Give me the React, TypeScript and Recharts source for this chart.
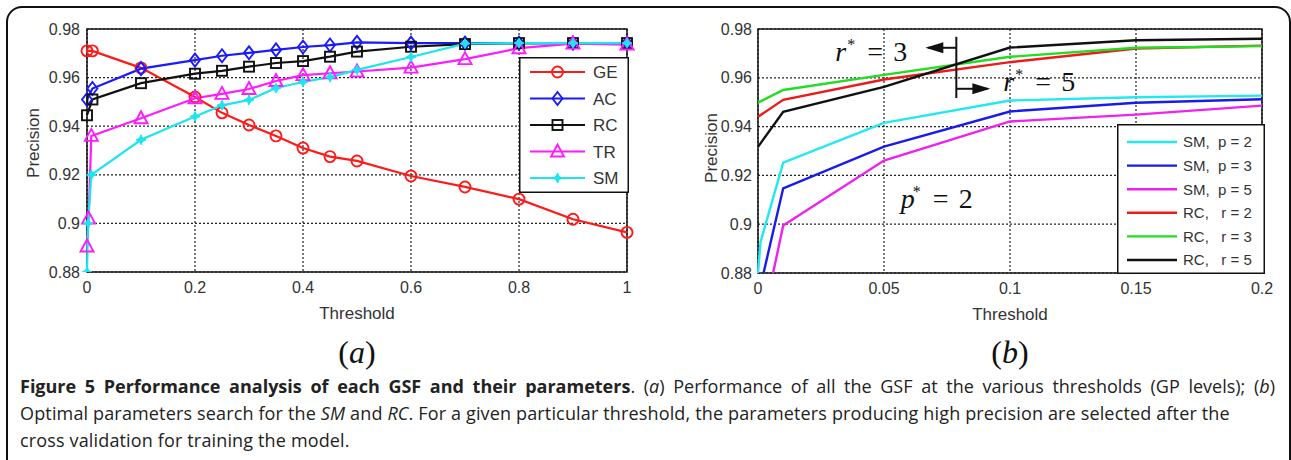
import React from "react";
import {
  LineChart, Line, XAxis, YAxis, CartesianGrid, ReferenceArea,
  ReferenceLine, ReferenceDot, Legend,
} from "recharts";

// ---------- panel (a): precision of each GSF against the threshold ----------
const thresholdTicksA = [0, 0.2, 0.4, 0.6, 0.8, 1];
const precisionTicks = [0.88, 0.9, 0.92, 0.94, 0.96, 0.98];

const geX = [0, 0.01, 0.1, 0.2, 0.25, 0.3, 0.35, 0.4, 0.45, 0.5, 0.6, 0.7, 0.8, 0.9, 1];
const geY = [0.971, 0.971, 0.964, 0.952, 0.9455, 0.9405, 0.936, 0.931, 0.9275, 0.9257, 0.9195, 0.915, 0.91, 0.9017, 0.8963];

const acX = [0, 0.01, 0.1, 0.2, 0.25, 0.3, 0.35, 0.4, 0.45, 0.5, 0.6, 0.7, 0.8, 0.9, 1];
const acY = [0.951, 0.9555, 0.9637, 0.9672, 0.969, 0.9702, 0.9714, 0.9726, 0.9734, 0.9745, 0.9742, 0.9742, 0.9742, 0.9742, 0.9742];

const rcX = [0, 0.01, 0.1, 0.2, 0.25, 0.3, 0.35, 0.4, 0.45, 0.5, 0.6, 0.7, 0.8, 0.9, 1];
const rcY = [0.9445, 0.951, 0.9577, 0.9616, 0.9628, 0.9645, 0.966, 0.9668, 0.9686, 0.9707, 0.9727, 0.9738, 0.9742, 0.9742, 0.9742];

const trX = [0, 0.003, 0.008, 0.1, 0.2, 0.25, 0.3, 0.35, 0.4, 0.45, 0.5, 0.6, 0.7, 0.8, 0.9, 1];
const trY = [0.8905, 0.902, 0.936, 0.9433, 0.9515, 0.9533, 0.9553, 0.9586, 0.961, 0.9618, 0.9625, 0.9641, 0.9676, 0.9721, 0.974, 0.9736];

const smX = [0, 0.002, 0.008, 0.1, 0.2, 0.25, 0.3, 0.35, 0.4, 0.45, 0.5, 0.6, 0.7, 0.8, 0.9, 1];
const smY = [0.88, 0.9, 0.92, 0.9344, 0.944, 0.9486, 0.9508, 0.9557, 0.9582, 0.9602, 0.9632, 0.9685, 0.974, 0.9742, 0.9742, 0.9742];

// ---------- panel (b): parameter search for SM and RC ----------
const thresholdTicksB = [0, 0.05, 0.1, 0.15, 0.2];

const smP2X = [0, 0.001, 0.01, 0.05, 0.1, 0.15, 0.2];
const smP2Y = [0.88, 0.8927, 0.9252, 0.9415, 0.9507, 0.952, 0.9527];
const smP3X = [0.0022, 0.01, 0.05, 0.1, 0.15, 0.2];
const smP3Y = [0.88, 0.9147, 0.9318, 0.9462, 0.9498, 0.9512];
const smP5X = [0.006, 0.01, 0.05, 0.1, 0.15, 0.2];
const smP5Y = [0.88, 0.8995, 0.9261, 0.9421, 0.9449, 0.9486];

const rcBX = [0, 0.01, 0.05, 0.1, 0.15, 0.2];
const rcR2Y = [0.944, 0.951, 0.9593, 0.9664, 0.972, 0.9732];
const rcR3Y = [0.9498, 0.955, 0.9612, 0.9686, 0.9723, 0.973];
const rcR5Y = [0.9317, 0.9461, 0.9563, 0.9724, 0.9754, 0.976];

const zip = (xs: number[], ys: number[]) => xs.map((x, i) => ({ x, y: ys[i] }));

const seriesA = [
  { name: "GE", color: "#ff1a1a", marker: "circle", data: zip(geX, geY) },
  { name: "AC", color: "#1a1aff", marker: "diamond", data: zip(acX, acY) },
  { name: "RC", color: "#111111", marker: "square", data: zip(rcX, rcY) },
  { name: "TR", color: "#ff1aff", marker: "triangle", data: zip(trX, trY) },
  { name: "SM", color: "#1ae5f0", marker: "star", data: zip(smX, smY) },
];

const seriesB = [
  { name: "SM,  p = 2", color: "#22e8f2", data: zip(smP2X, smP2Y) },
  { name: "SM,  p = 3", color: "#1a1aee", data: zip(smP3X, smP3Y) },
  { name: "SM,  p = 5", color: "#f020f0", data: zip(smP5X, smP5Y) },
  { name: "RC,   r = 2", color: "#ee1a1a", data: zip(rcBX, rcR2Y) },
  { name: "RC,   r = 3", color: "#22dd22", data: zip(rcBX, rcR3Y) },
  { name: "RC,   r = 5", color: "#111111", data: zip(rcBX, rcR5Y) },
];

const AXIS_FONT = "'Liberation Sans', Arial, sans-serif";
const MATH_FONT = "'Liberation Serif', 'Times New Roman', serif";
const tickStyle = { fill: "#333", fontSize: 16, fontFamily: AXIS_FONT };
const fmt = (v: number) => String(Number(v.toFixed(2)));

function Marker({ kind, color, cx, cy }: { kind: string; color: string; cx: number; cy: number }) {
  const sw = 1.9;
  if (kind === "circle")
    return <circle cx={cx} cy={cy} r={5.5} fill="none" stroke={color} strokeWidth={sw} />;
  if (kind === "diamond")
    return <polygon points={`${cx},${cy - 6.5} ${cx + 5},${cy} ${cx},${cy + 6.5} ${cx - 5},${cy}`} fill="none" stroke={color} strokeWidth={sw} />;
  if (kind === "square")
    return <rect x={cx - 5} y={cy - 5} width={10} height={10} fill="none" stroke={color} strokeWidth={sw} />;
  if (kind === "triangle")
    return <polygon points={`${cx},${cy - 7} ${cx + 6.5},${cy + 5} ${cx - 6.5},${cy + 5}`} fill="none" stroke={color} strokeWidth={sw} />;
  // SM: small filled four-point star
  const o = 5, n = 1.6;
  return (
    <polygon
      points={`${cx},${cy - o} ${cx + n},${cy - n} ${cx + o},${cy} ${cx + n},${cy + n} ${cx},${cy + o} ${cx - n},${cy + n} ${cx - o},${cy} ${cx - n},${cy - n}`}
      fill={color} stroke={color} strokeWidth={1}
    />
  );
}

const legendA = () => (
  <svg width={110} height={136} style={{ display: "block" }}>
    <rect x={0.75} y={0.75} width={108.5} height={134.5} fill="#fff" stroke="#111" strokeWidth={1.5} />
    {seriesA.map((s, i) => {
      const y = 15 + i * 26.5;
      return (
        <g key={s.name}>
          <line x1={11} x2={66} y1={y} y2={y} stroke={s.color} strokeWidth={2.2} />
          <Marker kind={s.marker} color={s.color} cx={38.5} cy={y} />
          <text x={74} y={y} dy="0.36em" fontSize={17} fontFamily={AXIS_FONT} fill="#333">{s.name}</text>
        </g>
      );
    })}
  </svg>
);

const legendB = () => (
  <svg width={148} height={150} style={{ display: "block" }}>
    <rect x={0.75} y={0.75} width={146.5} height={148.5} fill="#fff" stroke="#111" strokeWidth={1.5} />
    {seriesB.map((s, i) => {
      const y = 18 + i * 23.6;
      return (
        <g key={s.name}>
          <line x1={10} x2={60} y1={y} y2={y} stroke={s.color} strokeWidth={2.4} />
          <text x={66} y={y} dy="0.36em" fontSize={15} fontFamily={AXIS_FONT} fill="#333" style={{ whiteSpace: "pre" }}>{s.name}</text>
        </g>
      );
    })}
  </svg>
);

const precisionLabel = (cx: number, cy: number) => () => (
  <text transform={`translate(${cx},${cy}) rotate(-90)`} textAnchor="middle" dy="0.36em"
    fontSize={17} fontFamily={AXIS_FONT} fill="#333">Precision</text>
);

const mathLabel = (sym: string, val: string) => (p: any) => (
  <text x={p.cx} y={p.cy} fontFamily={MATH_FONT} fontSize={28} fill="#111">
    <tspan fontStyle="italic">{sym}</tspan>
    <tspan x={p.cx + 12} dy={-11} fontSize={16}>*</tspan>
    <tspan x={p.cx + 32} dy={11}>=</tspan>
    <tspan x={p.cx + 58}>{val}</tspan>
  </text>
);

const arrowHead = (dir: number) => (p: any) => (
  <polygon
    points={`${p.cx},${p.cy} ${p.cx - dir * 18},${p.cy - 5.5} ${p.cx - dir * 18},${p.cy + 5.5}`}
    fill="#111"
  />
);

function PanelA() {
  return (
    <LineChart width={660} height={330} margin={{ top: 29, right: 33, bottom: 8, left: 27 }}>
      <CartesianGrid stroke="#222" strokeWidth={1.2} strokeDasharray="2 2" />
      <XAxis dataKey="x" type="number" domain={[0, 1]} ticks={thresholdTicksA} tickFormatter={fmt}
        axisLine={false} tickLine={false} tickSize={0} tickMargin={10} height={50} tick={tickStyle}
        label={{ value: "Threshold", position: "insideBottom", offset: 3, fontSize: 17, fontFamily: AXIS_FONT, fill: "#333" }} />
      <YAxis type="number" domain={[0.88, 0.98]} ticks={precisionTicks} tickFormatter={fmt} allowDataOverflow
        axisLine={false} tickLine={false} tickSize={0} tickMargin={7} width={60} tick={tickStyle}
        label={{ content: precisionLabel(33, 143) }} />
      <ReferenceArea x1={0} x2={1} y1={0.88} y2={0.98} fill="none" stroke="#111" strokeWidth={1.5} />
      {seriesA.map((s) => (
        <Line key={s.name} data={s.data} dataKey="y" type="linear" stroke={s.color} strokeWidth={2.2}
          isAnimationActive={false} activeDot={false}
          dot={(p: any) => <Marker key={`${s.name}-${p.index}`} kind={s.marker} color={s.color} cx={p.cx} cy={p.cy} />} />
      ))}
      <Legend layout="horizontal" verticalAlign="middle" align="center" content={legendA}
        wrapperStyle={{ left: 519, top: 57, width: 110, height: 136 }} />
    </LineChart>
  );
}

function PanelB() {
  return (
    <LineChart width={631} height={330} margin={{ top: 29, right: 29, bottom: 7, left: 38 }}>
      <CartesianGrid stroke="#222" strokeWidth={1.2} strokeDasharray="2 2" />
      <XAxis dataKey="x" type="number" domain={[0, 0.2]} ticks={thresholdTicksB} tickFormatter={fmt}
        axisLine={false} tickLine={false} tickSize={0} tickMargin={10} height={50} tick={tickStyle}
        label={{ value: "Threshold", position: "insideBottom", offset: 3, fontSize: 17, fontFamily: AXIS_FONT, fill: "#333" }} />
      <YAxis type="number" domain={[0.88, 0.98]} ticks={precisionTicks} tickFormatter={fmt} allowDataOverflow
        axisLine={false} tickLine={false} tickSize={0} tickMargin={6} width={60} tick={tickStyle}
        label={{ content: precisionLabel(51, 148) }} />
      <ReferenceArea x1={0} x2={0.2} y1={0.88} y2={0.98} fill="none" stroke="#111" strokeWidth={1.5} />
      {seriesB.map((s) => (
        <Line key={s.name} data={s.data} dataKey="y" type="linear" stroke={s.color} strokeWidth={2.4}
          isAnimationActive={false} activeDot={false} dot={false} />
      ))}
      {/* r* annotation: divider with arrows */}
      <ReferenceLine segment={[{ x: 0.0787, y: 0.9768 }, { x: 0.0787, y: 0.9517 }]} stroke="#111" strokeWidth={2} />
      <ReferenceLine segment={[{ x: 0.0787, y: 0.9723 }, { x: 0.0675, y: 0.9723 }]} stroke="#111" strokeWidth={2} />
      <ReferenceLine segment={[{ x: 0.0787, y: 0.9555 }, { x: 0.091, y: 0.9555 }]} stroke="#111" strokeWidth={2} />
      <ReferenceDot x={0.0664} y={0.9723} shape={arrowHead(-1)} />
      <ReferenceDot x={0.0922} y={0.9555} shape={arrowHead(1)} />
      <ReferenceDot x={0.0307} y={0.967} shape={mathLabel("r", "3")} />
      <ReferenceDot x={0.0973} y={0.9547} shape={mathLabel("r", "5")} />
      <ReferenceDot x={0.0566} y={0.9066} shape={mathLabel("p", "2")} />
      <Legend layout="horizontal" verticalAlign="middle" align="center" content={legendB}
        wrapperStyle={{ left: 457, top: 124, width: 148, height: 150 }} />
    </LineChart>
  );
}

const captionFont = "'Open Sans', Lato, sans-serif";

export default function App() {
  return (
    <div style={{ position: "absolute", left: 0, top: 0, width: 1291, height: 460, background: "#fff", overflow: "hidden" }}>
      <div style={{ position: "absolute", left: 6, top: 6, width: 1285, height: 520, border: "2px solid #111", borderRadius: 16, boxSizing: "border-box" }} />
      <div style={{ position: "absolute", left: 0, top: 0 }}><PanelA /></div>
      <div style={{ position: "absolute", left: 660, top: 0 }}><PanelB /></div>
      <div style={{ position: "absolute", left: 307, top: 334, width: 100, textAlign: "center", fontFamily: MATH_FONT, fontSize: 32, color: "#111" }}>
        (<i>a</i>)
      </div>
      <div style={{ position: "absolute", left: 960, top: 334, width: 100, textAlign: "center", fontFamily: MATH_FONT, fontSize: 32, color: "#111" }}>
        (<i>b</i>)
      </div>
      <div style={{ position: "absolute", left: 20, top: 373, width: 1255, fontFamily: captionFont, fontSize: 18, letterSpacing: "0.15px", lineHeight: "27px", color: "#222" }}>
        <div style={{ textAlign: "justify", textAlignLast: "justify", whiteSpace: "nowrap" as any, letterSpacing: 0 }}>
          <b>Figure 5 Performance analysis of each GSF and their parameters</b>. (<i>a</i>) Performance of all the GSF at the various thresholds (GP levels); (<i>b</i>)
        </div>
        <div style={{ whiteSpace: "nowrap" }}>
          Optimal parameters search for the <i>SM</i> and <i>RC</i>. For a given particular threshold, the parameters producing high precision are selected after the
        </div>
        <div>cross validation for training the model.</div>
      </div>
    </div>
  );
}
